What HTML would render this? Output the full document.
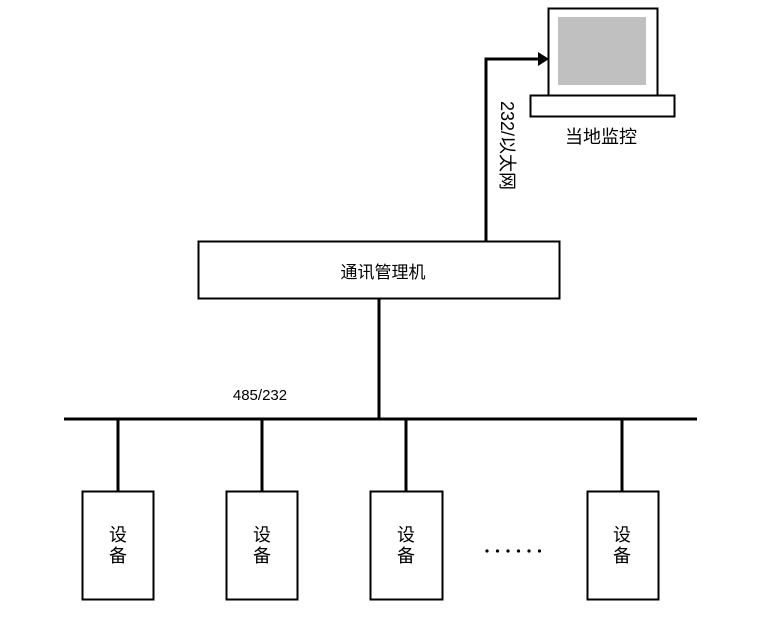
<!DOCTYPE html>
<html><head><meta charset="utf-8"><style>
body{margin:0;background:#fff;}
svg text{font-family:"Liberation Sans","Noto Sans CJK SC",sans-serif;fill:#000;}
</style></head><body>
<svg width="759" height="632" viewBox="0 0 759 632" xmlns="http://www.w3.org/2000/svg">
<g stroke="#000" fill="none">
<rect x="548.5" y="8.5" width="109" height="87" stroke-width="2" fill="#fff"/>
<rect x="558" y="17" width="88" height="68" fill="#c0c0c0" stroke="none"/>
<rect x="530.5" y="95.5" width="144" height="21" stroke-width="2" fill="#fff"/>
<polyline points="486,241 486,59 540,59" stroke-width="3"/>
<rect x="198.5" y="241.5" width="361" height="57" stroke-width="2" fill="#fff"/>
<line x1="379" y1="299" x2="379" y2="420" stroke-width="3"/>
<line x1="64" y1="419" x2="697" y2="419" stroke-width="3"/>
<line x1="118" y1="419" x2="118" y2="491" stroke-width="3"/>
<line x1="262" y1="419" x2="262" y2="491" stroke-width="3"/>
<line x1="406" y1="419" x2="406" y2="491" stroke-width="3"/>
<line x1="622" y1="419" x2="622" y2="491" stroke-width="3"/>
<rect x="82.5" y="491.5" width="71" height="108" stroke-width="2"/>
<rect x="226.5" y="491.5" width="71" height="108" stroke-width="2"/>
<rect x="370.5" y="491.5" width="72" height="108" stroke-width="2"/>
<rect x="587.5" y="491.5" width="71" height="108" stroke-width="2"/>
</g>
<polygon points="538,52 549,59 538,66" fill="#000"/>
<text x="601" y="143" font-size="18" text-anchor="middle">当地监控</text>
<text x="0" y="0" font-size="18" transform="translate(501,101) rotate(90)">232/以太网</text>
<text x="383" y="278" font-size="17" text-anchor="middle">通讯管理机</text>
<text x="260" y="400" font-size="15" text-anchor="middle">485/232</text>
<g font-size="18" text-anchor="middle">
<text x="118" y="541">设</text><text x="118" y="562">备</text>
<text x="262" y="541">设</text><text x="262" y="562">备</text>
<text x="406" y="541">设</text><text x="406" y="562">备</text>
<text x="622" y="541">设</text><text x="622" y="562">备</text>
</g>
<g fill="#000">
<circle cx="487" cy="551" r="1.6"/><circle cx="497.5" cy="551" r="1.6"/><circle cx="508" cy="551" r="1.6"/>
<circle cx="518.5" cy="551" r="1.6"/><circle cx="529" cy="551" r="1.6"/><circle cx="539.5" cy="551" r="1.6"/>
</g>
</svg>
</body></html>
